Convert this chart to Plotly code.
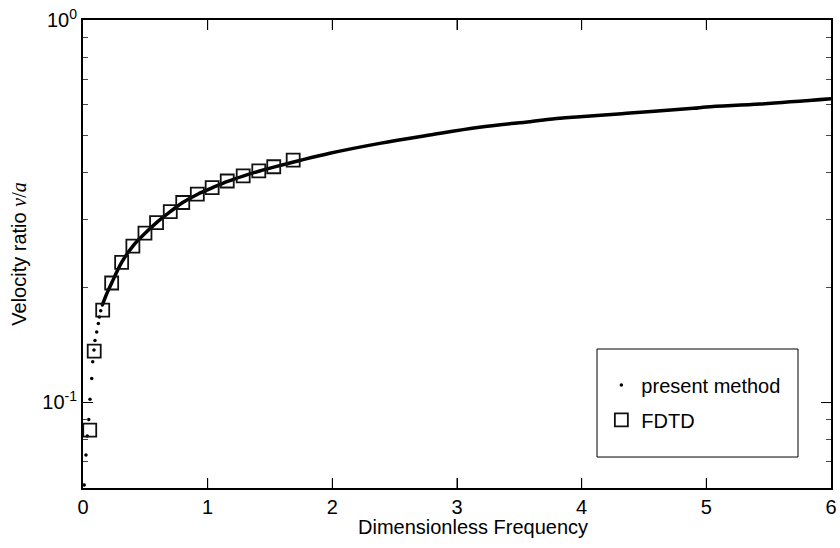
import plotly.graph_objects as go

# present method: isolated low-frequency samples (drawn as dots)
pm_dot_x = [0.010, 0.024, 0.034, 0.046, 0.056, 0.070, 0.078, 0.088, 0.096,
            0.110, 0.123, 0.131, 0.142, 0.155]
pm_dot_v = [0.0607, 0.0727, 0.0815, 0.0901, 0.1018, 0.1153, 0.1275, 0.1368, 0.145,
            0.1525, 0.1607, 0.167, 0.1734, 0.1795]

# present method: dense part (samples so close they form a solid curve)
pm_line_x = [0.155, 0.19, 0.23, 0.31, 0.40, 0.50, 0.59, 0.70, 0.80, 0.92, 1.04,
             1.16, 1.29, 1.41, 1.53, 1.74, 1.98, 2.38, 2.78, 3.18, 3.585, 3.826,
             3.985, 4.36, 4.895, 5.0, 5.43, 6.0]
pm_line_v = [0.1795, 0.192, 0.205, 0.232, 0.256, 0.277, 0.295, 0.315, 0.333, 0.350, 0.364,
             0.378, 0.391, 0.402, 0.412, 0.429, 0.448, 0.4755, 0.500, 0.524, 0.542, 0.553,
             0.558, 0.5697, 0.5872, 0.592, 0.6027, 0.622]

# FDTD
fdtd_x = [0.054, 0.09, 0.158, 0.23, 0.31, 0.40, 0.497, 0.59, 0.70, 0.80, 0.917,
          1.036, 1.157, 1.285, 1.41, 1.53, 1.686]
fdtd_v = [0.0845, 0.136, 0.174, 0.205, 0.232, 0.256, 0.277, 0.295, 0.315, 0.333, 0.350,
          0.364, 0.379, 0.391, 0.403, 0.413, 0.430]

x_ticks = [0, 1, 2, 3, 4, 5, 6]
y_ticks = [0.1, 1]
y_ticktext = ["10<sup>-1</sup>", "10<sup>0</sup>"]
y_minor = [0.07, 0.08, 0.09, 0.2, 0.3, 0.4, 0.5, 0.6, 0.7, 0.8, 0.9]

FONT = "Liberation Sans, Arial, Helvetica, sans-serif"

fig = go.Figure()
fig.add_trace(go.Scatter(x=pm_line_x, y=pm_line_v, mode="lines",
                         line=dict(color="black", width=3.5, shape="spline"),
                         showlegend=False, hoverinfo="skip"))
fig.add_trace(go.Scatter(x=pm_dot_x, y=pm_dot_v, mode="markers", name="present method",
                         marker=dict(color="black", size=3.5, symbol="circle"),
                         legendgroup="a"))
fig.add_trace(go.Scatter(x=fdtd_x, y=fdtd_v, mode="markers", name="FDTD",
                         marker=dict(color="#111", size=13, symbol="square-open",
                                     line=dict(color="#111", width=1.8)),
                         legendgroup="b"))

# legend frame (paper coordinates)
fig.add_shape(type="rect", xref="paper", yref="paper",
              x0=0.6872, x1=0.9559, y0=0.0662, y1=0.297,
              line=dict(color="black", width=1), fillcolor="white", layer="below")

# inward x tick marks on bottom and top frame, placed through the x axis
TICK_FRAC = 10 / 468
for xv in x_ticks[1:-1]:
    fig.add_shape(type="line", xref="x", yref="paper", x0=xv, x1=xv,
                  y0=0, y1=TICK_FRAC, line=dict(color="black", width=1), layer="above")
    fig.add_shape(type="line", xref="x", yref="paper", x0=xv, x1=xv,
                  y0=1 - TICK_FRAC, y1=1, line=dict(color="black", width=1), layer="above")

# x-axis title
fig.add_annotation(text="Dimensionless Frequency", xref="paper", yref="paper",
                   x=0.521, y=-0.083, xanchor="center", yanchor="middle",
                   showarrow=False, font=dict(size=20))

fig.update_layout(
    width=840, height=548,
    margin=dict(l=83, r=9, t=20, b=60, autoexpand=False),
    paper_bgcolor="white", plot_bgcolor="white",
    font=dict(family=FONT, size=20, color="black"),
    legend=dict(x=0.693, y=0.262, xanchor="left", yanchor="top",
                borderwidth=0, bgcolor="rgba(0,0,0,0)",
                font=dict(size=20), tracegroupgap=6, traceorder="grouped",
                itemsizing="trace"),
    xaxis=dict(range=[0, 6], tickmode="array", tickvals=x_ticks, automargin=False,
               ticks="inside", ticklen=10, tickwidth=1, tickcolor="#000000",
               ticklabeloverflow="allow", layer="above traces",
               showline=True, linewidth=2, linecolor="black", mirror="ticks",
               showgrid=False, zeroline=False),
    yaxis=dict(type="log", range=[-1.2248, 0], tickmode="array", automargin=False,
               tickvals=y_ticks, ticktext=y_ticktext, ticklabeloverflow="allow",
               ticks="inside", ticklen=10, tickwidth=1.2, tickcolor="black",
               minor=dict(tickmode="array", tickvals=y_minor, ticks="inside",
                          ticklen=5, tickwidth=1, tickcolor="#444"),
               showline=True, linewidth=2, linecolor="black", mirror="ticks",
               showgrid=False, zeroline=False,
               title=dict(text='Velocity ratio <span style="font-family:Liberation Serif"><i>v</i>/<i>a</i></span>',
                          standoff=10, font=dict(size=20))),
)

fig.write_html("out.html", config={"displayModeBar": False},
               post_script="document.body.style.margin='0';")
